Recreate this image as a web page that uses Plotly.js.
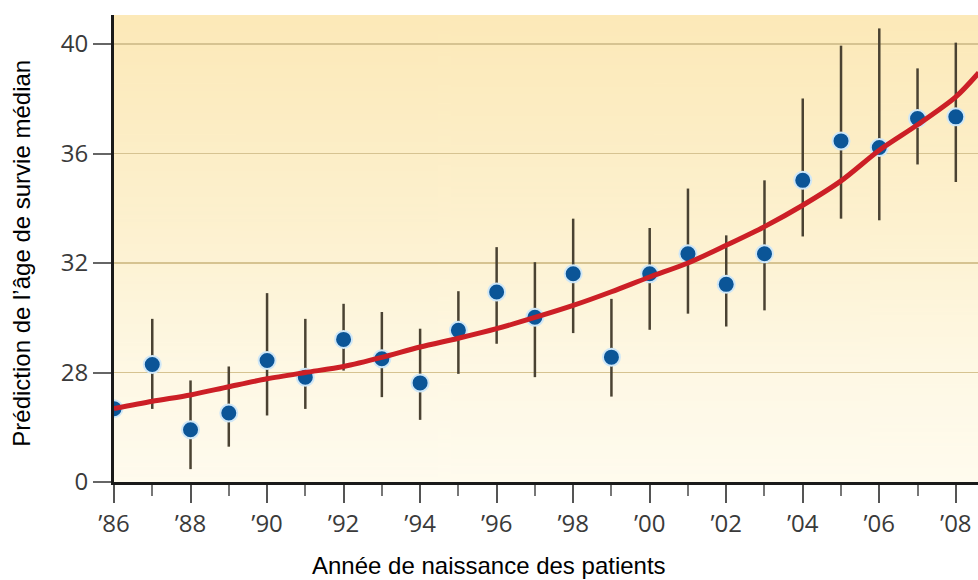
<!DOCTYPE html>
<html>
<head>
<meta charset="utf-8">
<script src="https://cdn.plot.ly/plotly-3.0.1.min.js"></script>
<style>
html,body{margin:0;padding:0;background:#fff;}
#chart{width:978px;height:580px;}
</style>
</head>
<body>
<div id="chart"></div>
<script>
// Data
const years = [1986,1987,1988,1989,1990,1991,1992,1993,1994,1995,1996,1997,1998,1999,2000,2001,2002,2003,2004,2005,2006,2007,2008];
const medianAge = [26.68,28.29,25.91,26.52,28.44,27.83,29.21,28.50,27.62,29.54,30.94,30.02,31.61,28.56,31.61,32.34,31.22,32.34,35.02,36.46,36.22,37.28,37.34];
const upperBound = [26.9,29.96,27.71,28.22,30.90,29.96,30.51,30.21,29.60,30.97,32.58,32.03,33.62,30.69,33.28,34.72,33.01,35.02,38.01,39.94,40.57,39.11,40.05];
const lowerBound = [26.5,26.67,24.47,25.29,26.43,26.67,28.07,27.10,26.27,27.95,29.05,27.83,29.44,27.12,29.56,30.15,29.68,30.27,32.97,33.62,33.56,35.60,34.96];
const fitYears = [1986,1987,1988,1989,1990,1991,1992,1993,1994,1995,1996,1997,1998,1999,2000,2001,2002,2003,2004,2005,2006,2007,2008,2008.6];
const fitValues = [26.68,26.95,27.18,27.48,27.77,28.0,28.22,28.55,28.93,29.25,29.6,30.01,30.45,30.95,31.49,32.0,32.65,33.33,34.11,35.0,36.12,37.05,38.07,38.95];
const yTickVals = [24,28,32,36,40];
const yTickText = ["0","28","32","36","40"];
const xTickVals = [1986,1988,1990,1992,1994,1996,1998,2000,2002,2004,2006,2008];
const xTickText = ["’86","’88","’90","’92","’94","’96","’98","’00","’02","’04","’06","’08"];
const xTitle = "Année de naissance des patients";
const yTitle = "Prédiction de l’âge de survie médian";

const errPlus = upperBound.map((u,i)=>u-medianAge[i]);
const errMinus = lowerBound.map((l,i)=>medianAge[i]-l);

// gradient background image
const cv = document.createElement('canvas');
cv.width = 4; cv.height = 256;
const ctx = cv.getContext('2d');
const g = ctx.createLinearGradient(0,0,0,256);
g.addColorStop(0,'#fce9b8');
g.addColorStop(0.45,'#fdf1cf');
g.addColorStop(0.75,'#fef8e4');
g.addColorStop(1,'#fffbee');
ctx.fillStyle = g; ctx.fillRect(0,0,4,256);
const bgUrl = cv.toDataURL();

const traces = [
  {
    x: years, y: medianAge, type: 'scatter', mode: 'markers',
    marker: {size: 17, color: '#0b5597', line: {color: '#cfe7f7', width: 2}},
    error_y: {type: 'data', symmetric: false, array: errPlus, arrayminus: errMinus,
              color: '#4a4232', thickness: 2.5, width: 0},
    hoverinfo: 'x+y', showlegend: false
  },
  {
    x: fitYears, y: fitValues, type: 'scatter', mode: 'lines',
    line: {color: '#cc1f26', width: 5, shape: 'spline', smoothing: 0.8},
    showlegend: false, hoverinfo: 'skip'
  }
];

const tickFont = {family: 'Open Sans, Noto Sans, sans-serif', size: 24, color: '#3a3a3a'};
const titleFont = {family: 'Liberation Sans, Arial, sans-serif', size: 24, color: '#000'};

const layout = {
  width: 978, height: 580,
  margin: {l: 114, r: 0, t: 15, b: 98},
  paper_bgcolor: '#ffffff',
  plot_bgcolor: 'rgba(0,0,0,0)',
  images: [{source: bgUrl, xref: 'paper', yref: 'paper', x: 0, y: 1, sizex: 1, sizey: 1,
            sizing: 'stretch', layer: 'below', xanchor: 'left', yanchor: 'top'}],
  xaxis: {
    range: [1986, 2008.58], tickvals: xTickVals, ticktext: xTickText,
    ticks: 'outside', ticklen: 18, tickwidth: 2, tickcolor: '#555',
    minor: {dtick: 1, tick0: 1986, ticks: 'outside', ticklen: 11, tickwidth: 2, tickcolor: '#777', showgrid: false},
    showline: true, linecolor: '#1a1a1a', linewidth: 3,
    showgrid: false, zeroline: false,
    tickfont: tickFont
  },
  yaxis: {
    range: [24, 41.06], tickvals: yTickVals, ticktext: yTickText,
    ticks: 'outside', ticklen: 18, tickwidth: 2, tickcolor: '#666',
    showline: true, linecolor: '#1a1a1a', linewidth: 3,
    showgrid: true, gridcolor: '#d6c391', gridwidth: 1.5,
    zeroline: false,
    tickfont: tickFont
  },
  annotations: [
    {text: xTitle, xref: 'paper', yref: 'paper', x: 0.434, y: -0.178, xanchor: 'center', yanchor: 'middle',
     showarrow: false, font: titleFont},
    {text: yTitle, xref: 'paper', yref: 'paper', x: -0.107, y: 0.49, xanchor: 'center', yanchor: 'middle',
     textangle: -90, showarrow: false, font: titleFont}
  ]
};

Plotly.newPlot('chart', traces, layout, {displayModeBar: false, staticPlot: true});
</script>
</body>
</html>
